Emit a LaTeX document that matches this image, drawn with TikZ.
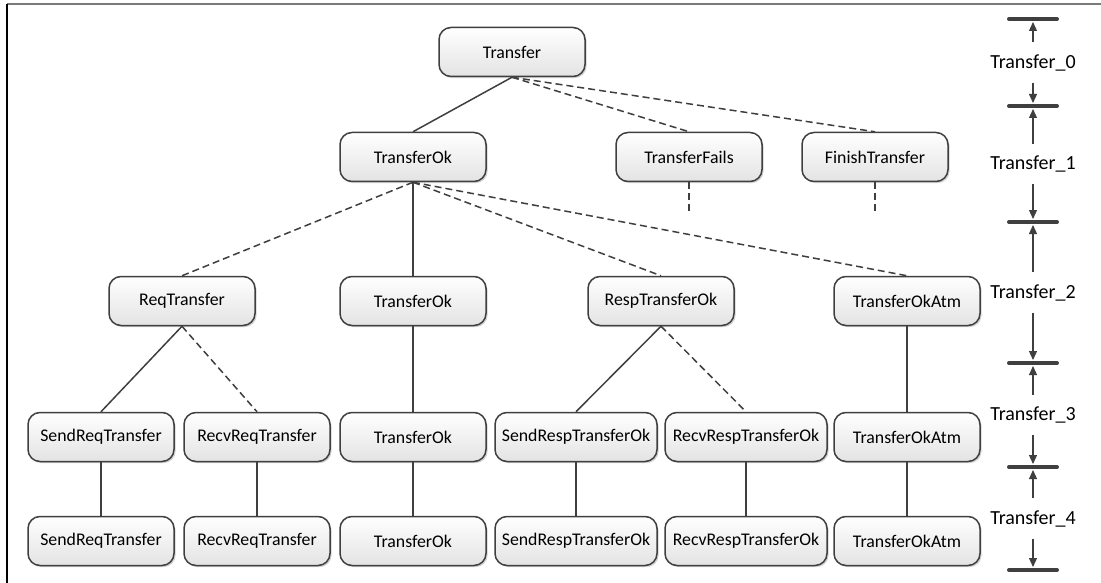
\documentclass[tikz,border=0pt]{standalone}
\usepackage{fontspec}
\setmainfont{Carlito}
\usetikzlibrary{arrows.meta,shadows}
\definecolor{ink}{HTML}{3F3F3F}
\definecolor{framegray}{HTML}{7A7A7A}
\begin{document}
\begin{tikzpicture}[x=1pt,y=-1pt,
  state/.style={draw=ink, line width=1.5pt, rounded corners=12pt,
    minimum width=146pt, minimum height=49pt, inner sep=0pt,
    top color=white, bottom color=black!11,
    font=\fontsize{17.8}{20}\selectfont,
    drop shadow={shadow xshift=1.6pt, shadow yshift=-1.6pt, opacity=0.18, fill=black}},
  widestate/.style={state, minimum width=162pt},
  link/.style={draw=ink, line width=1.5pt},
  optlink/.style={link, dash pattern=on 7pt off 4pt},
  levelbar/.style={draw=ink, line width=4pt, line cap=round},
  levellabel/.style={font=\fontsize{20}{24}\selectfont, inner sep=0pt, minimum height=40pt},
  levelarrow/.style={draw=ink, line width=1.1pt, -{Triangle[length=9pt,width=8pt]}}
]
\useasboundingbox (0,0) rectangle (1101,583);

% frame
\draw[framegray, line width=2pt] (7,4.5) -- (1101,4.5);
\draw[black, line width=2pt] (7,4) -- (7,583);

% level 0
\node[state] (t0) at (512,52) {Transfer};
% level 1
\node[state] (ok1)   at (413,157) {TransferOk};
\node[state] (fails) at (689,157) {TransferFails};
\node[state] (fin)   at (875,157) {FinishTransfer};
% level 2
\node[state] (req2)  at (182,301) {ReqTransfer};
\node[state] (ok2)   at (413,301) {TransferOk};
\node[state] (resp2) at (661,301) {RespTransferOk};
\node[state] (atm2)  at (907,301) {TransferOkAtm};
% level 3
\node[state]     (sreq3)  at (101,437) {SendReqTransfer};
\node[state]     (rreq3)  at (257,437) {RecvReqTransfer};
\node[state]     (ok3)    at (413,437) {TransferOk};
\node[widestate] (sresp3) at (576,437) {SendRespTransferOk};
\node[widestate] (rresp3) at (746,437) {RecvRespTransferOk};
\node[state]     (atm3)   at (907,437) {TransferOkAtm};
% level 4
\node[state]     (sreq4)  at (101,541) {SendReqTransfer};
\node[state]     (rreq4)  at (257,541) {RecvReqTransfer};
\node[state]     (ok4)    at (413,541) {TransferOk};
\node[widestate] (sresp4) at (576,541) {SendRespTransferOk};
\node[widestate] (rresp4) at (746,541) {RecvRespTransferOk};
\node[state]     (atm4)   at (907,541) {TransferOkAtm};

% tree edges
\draw[link]    (t0.south) -- (ok1.north);
\draw[optlink] (t0.south) -- (fails.north);
\draw[optlink] (t0.south) -- (fin.north);

\coordinate (failsEnd) at (689,215);
\coordinate (finEnd)   at (875,215);
\draw[optlink] (fails.south) -- (failsEnd);
\draw[optlink] (fin.south) -- (finEnd);

\draw[optlink] (ok1.south) -- (req2.north);
\draw[link]    (ok1.south) -- (ok2.north);
\draw[optlink] (ok1.south) -- (resp2.north);
\draw[optlink] (ok1.south) -- (atm2.north);

\draw[link]    (req2.south) -- (sreq3.north);
\draw[optlink] (req2.south) -- (rreq3.north);
\draw[link]    (ok2.south) -- (ok3.north);
\draw[link]    (resp2.south) -- (sresp3.north);
\draw[optlink] (resp2.south) -- (rresp3.north);
\draw[link]    (atm2.south) -- (atm3.north);

\draw[link] (sreq3.south)  -- (sreq4.north);
\draw[link] (rreq3.south)  -- (rreq4.north);
\draw[link] (ok3.south)    -- (ok4.north);
\draw[link] (sresp3.south) -- (sresp4.north);
\draw[link] (rresp3.south) -- (rresp4.north);
\draw[link] (atm3.south)   -- (atm4.north);

% level scale on the right
\coordinate (b0) at (1033,19);
\coordinate (b1) at (1033,106);
\coordinate (b2) at (1033,222);
\coordinate (b3) at (1033,363);
\coordinate (b4) at (1033,467);
\coordinate (b5) at (1033,570);
\foreach \b in {b0,b1,b2,b3,b4,b5}
  \draw[levelbar] ([xshift=-24pt]\b) -- ([xshift=24pt]\b);

\node[levellabel] (l0) at (1033,62.5) {Transfer\_0};
\node[levellabel] (l1) at (1033,164)  {Transfer\_1};
\node[levellabel] (l2) at (1033,292.5){Transfer\_2};
\node[levellabel] (l3) at (1033,415)  {Transfer\_3};
\node[levellabel] (l4) at (1033,518.5){Transfer\_4};

\draw[levelarrow] (l0.north) -- ([yshift=-3pt]b0);
\draw[levelarrow] (l0.south) -- ([yshift=3pt]b1);
\draw[levelarrow] (l1.north) -- ([yshift=-3pt]b1);
\draw[levelarrow] (l1.south) -- ([yshift=3pt]b2);
\draw[levelarrow] (l2.north) -- ([yshift=-3pt]b2);
\draw[levelarrow] (l2.south) -- ([yshift=3pt]b3);
\draw[levelarrow] (l3.north) -- ([yshift=-3pt]b3);
\draw[levelarrow] (l3.south) -- ([yshift=3pt]b4);
\draw[levelarrow] (l4.north) -- ([yshift=-3pt]b4);
\draw[levelarrow] (l4.south) -- ([yshift=3pt]b5);
\end{tikzpicture}
\end{document}
